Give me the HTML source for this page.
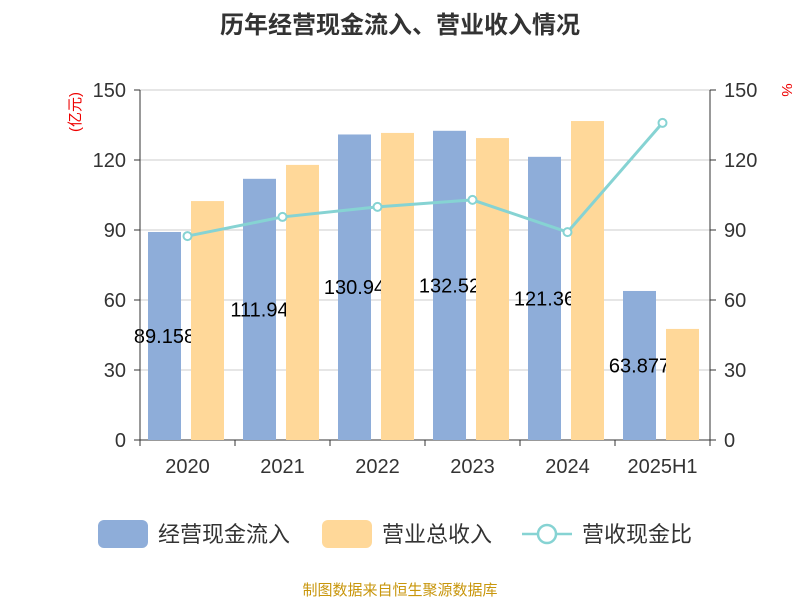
<!DOCTYPE html>
<html><head><meta charset="utf-8"><style>
body{margin:0;background:#fff;font-family:"Liberation Sans","Noto Sans CJK SC",sans-serif;}
</style></head><body>
<svg id="c" width="800" height="600" xmlns="http://www.w3.org/2000/svg" style="font-family:'Liberation Sans','Noto Sans CJK SC',sans-serif">
<text x="400" y="33" text-anchor="middle" font-size="24" font-weight="bold" fill="#333">历年经营现金流入、营业收入情况</text>
<text transform="translate(80,112) rotate(-90)" text-anchor="middle" font-size="15" fill="#e00">(亿元)</text>
<text transform="translate(782,90) rotate(90)" text-anchor="middle" font-size="15" fill="#e00">%</text>
<g id="grid"></g><g id="bars1"></g><g id="labels"></g><g id="bars2"></g><g id="line"></g><g id="axes"></g>
<g>
<rect x="98" y="520" width="50" height="28" rx="6" fill="#8eadd9"/>
<text x="158" y="542" font-size="22" fill="#333">经营现金流入</text>
<rect x="322" y="520" width="50" height="28" rx="6" fill="#ffd899"/>
<text x="382" y="542" font-size="22" fill="#333">营业总收入</text>
<line x1="522" y1="534" x2="572" y2="534" stroke="#86d3d3" stroke-width="2.5"/>
<circle cx="547" cy="534" r="9" fill="#fff" stroke="#86d3d3" stroke-width="2.5"/>
<text x="582" y="542" font-size="22" fill="#333">营收现金比</text>
</g>
<text x="400" y="595" text-anchor="middle" font-size="15" fill="#c8960c">制图数据来自恒生聚源数据库</text>
</svg>
<script>
const categories=["2020","2021","2022","2023","2024","2025H1"];
const cashInflow=[89.15,111.94,130.94,132.52,121.36,63.87];
const cashLabels=["89.158","111.94","130.94","132.52","121.36","63.877"];
const revenue=[102.4,117.9,131.6,129.4,136.7,47.6];
const ratio=[87.4,95.6,99.9,102.9,89.1,135.9];
const leftTicks=[0,30,60,90,120,150];
const rightTicks=[0,30,60,90,120,150];
const NS="http://www.w3.org/2000/svg";
const X0=140,X1=710,Y0=440,Y1=90,MAX=150;
const bw=(X1-X0)/categories.length;
const y=v=>Y0-(v/MAX)*(Y0-Y1);
const xc=i=>X0+bw*(i+0.5);
function mk(t,a,p){const e=document.createElementNS(NS,t);for(const k in a)e.setAttribute(k,a[k]);document.getElementById(p).appendChild(e);return e;}
leftTicks.forEach(t=>{
 const g=mk("line",{x1:X0,x2:X1,y1:y(t),y2:y(t),stroke:t==0?"#333":"#ccc","stroke-width":1},"grid");
 
 
 const l=mk("text",{x:X0-14,y:y(t)+7,"text-anchor":"end","font-size":20,fill:"#333"},"axes");l.textContent=t;
 
 
 const tk=mk("line",{x1:X0-6,x2:X0,y1:y(t),y2:y(t),stroke:"#333"},"axes");
 
 
});
rightTicks.forEach(t=>{
 const l=mk("text",{x:X1+14,y:y(t)+7,"font-size":20,fill:"#333"},"axes");l.textContent=t;
 
 
 const tk=mk("line",{x1:X1,x2:X1+6,y1:y(t),y2:y(t),stroke:"#333"},"axes");
 
 
});
[X0,X1].forEach(xx=>{const a=mk("line",{x1:xx,x2:xx,y1:Y1,y2:Y0,stroke:"#333"},"axes");
 
 });
categories.forEach((c,i)=>{
 const b=mk("rect",{x:X0+bw*i+8,y:y(cashInflow[i]),width:33,height:Y0-y(cashInflow[i]),fill:"#8eadd9"},"bars1");
 
 
 const lb=mk("text",{x:X0+bw*i+24.5,y:(y(cashInflow[i])+Y0)/2+7,"text-anchor":"middle","font-size":20,fill:"#000"},"labels");lb.textContent=cashLabels[i];
 
 
 const r=mk("rect",{x:X0+bw*i+51,y:y(revenue[i]),width:33,height:Y0-y(revenue[i]),fill:"#ffd899"},"bars2");
 
 
 const tl=mk("text",{x:xc(i),y:Y0+33,"text-anchor":"middle","font-size":20,fill:"#333"},"axes");tl.textContent=c;
 
 
 const tk=mk("line",{x1:X0+bw*i,x2:X0+bw*i,y1:Y0,y2:Y0+6,stroke:"#333"},"axes");
 
 
});
const tkE=mk("line",{x1:X1,x2:X1,y1:Y0,y2:Y0+6,stroke:"#333"},"axes");


const pl=mk("polyline",{points:ratio.map((v,i)=>xc(i)+","+y(v)).join(" "),fill:"none",stroke:"#86d3d3","stroke-width":3},"line");


ratio.forEach((v,i)=>{const p=mk("circle",{cx:xc(i),cy:y(v),r:4,fill:"#fff",stroke:"#86d3d3","stroke-width":2},"line");
 
 });
</script>
</body></html>
